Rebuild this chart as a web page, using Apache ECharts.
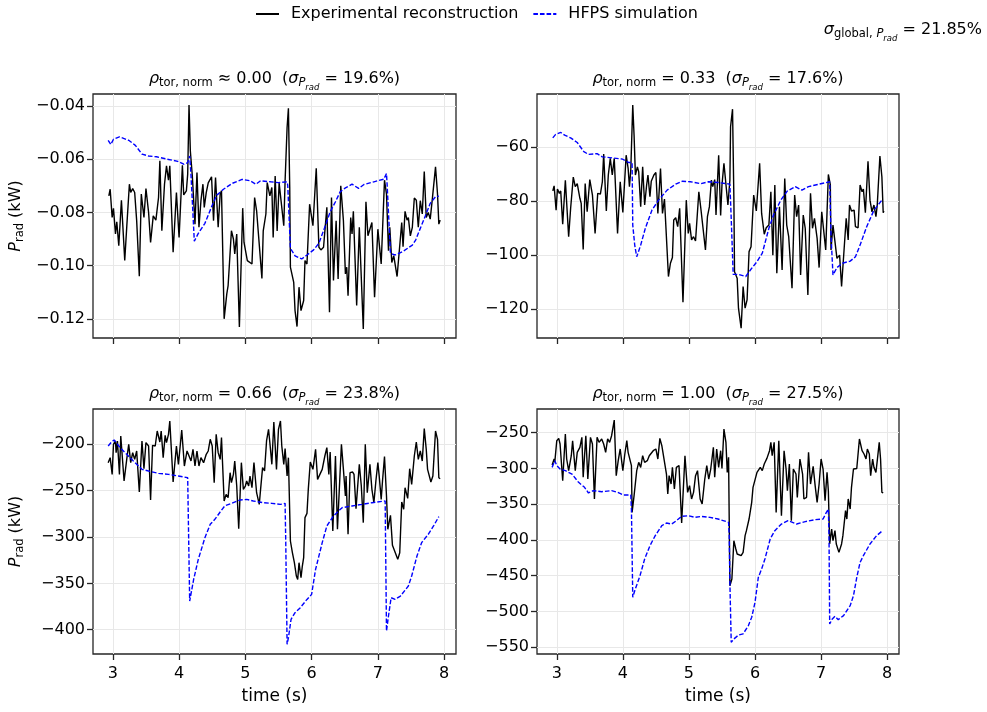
<!DOCTYPE html>
<html>
<head>
<meta charset="utf-8">
<script src="https://cdn.jsdelivr.net/npm/echarts@6/dist/echarts.min.js"></script>
<style>
html,body{margin:0;padding:0;background:#fff;}
#chart{width:987px;height:712px;}
</style>
</head>
<body>
<div id="chart"></div>
<script>
// ---------------- DATA ----------------
const seriesNames = ['Experimental reconstruction', 'HFPS simulation'];
const xTicks = [3, 4, 5, 6, 7, 8];
const yTicks0 = [-0.12, -0.10, -0.08, -0.06, -0.04];
const yTicks1 = [-120, -100, -80, -60];
const yTicks2 = [-400, -350, -300, -250, -200];
const yTicks3 = [-550, -500, -450, -400, -350, -300, -250];
const rhoOps = ['≈', '=', '=', '='];
const rhoVals = ['0.00', '0.33', '0.66', '1.00'];
const sigmaVals = ['19.6', '17.6', '23.8', '27.5'];
const sigmaGlobal = '21.85';

// panel 0 (rho ~ 0.00), units kW
const exp0 = [[2.94,-0.0738],[2.96,-0.0713],[2.99,-0.0819],[3.01,-0.0785],[3.04,-0.0881],[3.06,-0.0835],[3.09,-0.0925],[3.13,-0.0754],[3.18,-0.0981],[3.21,-0.0856],[3.25,-0.0694],[3.27,-0.0725],[3.30,-0.0710],[3.33,-0.0725],[3.36,-0.0831],[3.40,-0.1040],[3.43,-0.0731],[3.47,-0.0819],[3.50,-0.0710],[3.54,-0.0800],[3.57,-0.0913],[3.61,-0.0813],[3.65,-0.0829],[3.69,-0.0744],[3.71,-0.0606],[3.74,-0.0869],[3.78,-0.0694],[3.81,-0.0625],[3.84,-0.0679],[3.86,-0.0625],[3.91,-0.0950],[3.96,-0.0725],[4.00,-0.0894],[4.05,-0.0623],[4.07,-0.0734],[4.11,-0.0719],[4.13,-0.0656],[4.15,-0.0396],[4.17,-0.0569],[4.20,-0.0663],[4.22,-0.0656],[4.24,-0.0844],[4.27,-0.0650],[4.30,-0.0856],[4.33,-0.0756],[4.36,-0.0694],[4.38,-0.0781],[4.41,-0.0726],[4.44,-0.0689],[4.47,-0.0694],[4.49,-0.0666],[4.52,-0.0831],[4.55,-0.0669],[4.59,-0.0856],[4.62,-0.0731],[4.64,-0.0719],[4.68,-0.1200],[4.72,-0.1106],[4.74,-0.1075],[4.79,-0.0869],[4.82,-0.0900],[4.84,-0.0956],[4.87,-0.0881],[4.91,-0.1231],[4.96,-0.0784],[4.98,-0.0913],[5.01,-0.0906],[5.03,-0.0981],[5.06,-0.0981],[5.10,-0.0994],[5.14,-0.0744],[5.17,-0.0794],[5.25,-0.1048],[5.27,-0.0869],[5.31,-0.0806],[5.33,-0.0688],[5.37,-0.0738],[5.40,-0.0706],[5.42,-0.0894],[5.45,-0.0663],[5.48,-0.0870],[5.51,-0.0690],[5.54,-0.0694],[5.58,-0.0850],[5.60,-0.0681],[5.63,-0.0481],[5.65,-0.0409],[5.67,-0.0706],[5.68,-0.1006],[5.73,-0.1063],[5.75,-0.1169],[5.78,-0.1229],[5.81,-0.1081],[5.84,-0.1169],[5.88,-0.1131],[5.90,-0.0981],[5.93,-0.0994],[5.97,-0.0769],[6.02,-0.0850],[6.07,-0.0634],[6.11,-0.0931],[6.14,-0.0941],[6.18,-0.0931],[6.21,-0.0938],[6.23,-0.0781],[6.27,-0.1175],[6.30,-0.0744],[6.33,-0.1056],[6.37,-0.0831],[6.40,-0.1050],[6.44,-0.0700],[6.48,-0.0831],[6.51,-0.1031],[6.53,-0.1006],[6.55,-0.1113],[6.59,-0.0819],[6.61,-0.0881],[6.63,-0.0796],[6.68,-0.1150],[6.72,-0.0856],[6.78,-0.1238],[6.82,-0.0760],[6.85,-0.0888],[6.88,-0.0881],[6.91,-0.0838],[6.95,-0.1119],[7.00,-0.0863],[7.05,-0.0994],[7.10,-0.0679],[7.13,-0.0731],[7.16,-0.0944],[7.18,-0.0856],[7.21,-0.0988],[7.24,-0.0963],[7.29,-0.1041],[7.31,-0.1046],[7.36,-0.0838],[7.38,-0.0929],[7.41,-0.0796],[7.44,-0.0829],[7.46,-0.0819],[7.49,-0.0888],[7.52,-0.0856],[7.55,-0.0746],[7.58,-0.0754],[7.61,-0.0856],[7.64,-0.0756],[7.67,-0.0806],[7.70,-0.0646],[7.73,-0.0819],[7.76,-0.0800],[7.79,-0.0825],[7.82,-0.0754],[7.87,-0.0629],[7.90,-0.0731],[7.92,-0.0844],[7.94,-0.0829]];
const sim0 = [[2.93,-0.0529],[2.97,-0.0545],[3.01,-0.0525],[3.10,-0.0516],[3.24,-0.0529],[3.34,-0.0548],[3.44,-0.0581],[3.54,-0.0588],[3.66,-0.0591],[3.82,-0.0600],[3.98,-0.0608],[4.07,-0.0619],[4.13,-0.0613],[4.16,-0.0588],[4.18,-0.0660],[4.23,-0.0908],[4.29,-0.0879],[4.39,-0.0841],[4.50,-0.0773],[4.57,-0.0735],[4.67,-0.0713],[4.80,-0.0691],[4.95,-0.0676],[5.07,-0.0681],[5.16,-0.0694],[5.23,-0.0681],[5.38,-0.0685],[5.50,-0.0688],[5.63,-0.0685],[5.64,-0.0698],[5.68,-0.0935],[5.75,-0.0963],[5.85,-0.0975],[5.93,-0.0960],[6.03,-0.0941],[6.11,-0.0916],[6.21,-0.0848],[6.28,-0.0798],[6.36,-0.0760],[6.43,-0.0723],[6.51,-0.0708],[6.61,-0.0694],[6.71,-0.0710],[6.79,-0.0695],[6.94,-0.0685],[7.09,-0.0675],[7.13,-0.0654],[7.14,-0.0698],[7.19,-0.0954],[7.26,-0.0960],[7.37,-0.0948],[7.52,-0.0923],[7.57,-0.0904],[7.64,-0.0860],[7.72,-0.0811],[7.79,-0.0766],[7.87,-0.0741],[7.92,-0.0739]];

// panel 1 (rho = 0.33)
const exp1 = [[2.94,-76.3],[2.96,-74.4],[2.99,-83.4],[3.01,-75.6],[3.04,-77.2],[3.06,-76.3],[3.09,-88.6],[3.13,-72.4],[3.18,-93.2],[3.21,-82.7],[3.25,-71.2],[3.28,-74.7],[3.31,-73.6],[3.35,-79.0],[3.37,-80.9],[3.40,-97.9],[3.43,-73.6],[3.46,-84.0],[3.50,-72.1],[3.54,-77.8],[3.58,-92.0],[3.62,-77.2],[3.66,-77.5],[3.69,-72.9],[3.71,-62.7],[3.75,-83.7],[3.78,-70.4],[3.81,-64.3],[3.84,-70.4],[3.87,-64.3],[3.92,-92.0],[3.96,-72.9],[4.00,-84.2],[4.05,-63.1],[4.08,-68.0],[4.10,-74.7],[4.12,-68.6],[4.15,-44.6],[4.17,-55.7],[4.19,-70.4],[4.22,-67.4],[4.24,-69.2],[4.27,-82.1],[4.30,-67.4],[4.33,-81.5],[4.36,-74.1],[4.38,-70.4],[4.41,-78.4],[4.43,-72.7],[4.47,-70.4],[4.50,-69.5],[4.53,-84.6],[4.57,-68.0],[4.60,-84.6],[4.63,-79.3],[4.66,-79.1],[4.69,-107.9],[4.72,-103.0],[4.75,-100.9],[4.77,-87.0],[4.80,-86.2],[4.83,-89.5],[4.86,-82.7],[4.91,-117.4],[4.96,-79.7],[4.99,-92.0],[5.01,-88.3],[5.04,-94.4],[5.07,-93.2],[5.10,-94.8],[5.15,-76.6],[5.18,-82.7],[5.25,-98.1],[5.28,-85.8],[5.31,-82.1],[5.34,-72.3],[5.36,-74.7],[5.39,-72.1],[5.41,-85.2],[5.45,-63.1],[5.48,-85.4],[5.50,-74.1],[5.53,-66.1],[5.55,-65.5],[5.59,-81.5],[5.62,-72.3],[5.63,-52.6],[5.66,-46.1],[5.68,-78.4],[5.69,-106.1],[5.73,-108.5],[5.75,-119.6],[5.79,-127.0],[5.82,-111.6],[5.85,-119.6],[5.88,-116.5],[5.91,-98.7],[5.94,-96.9],[5.98,-77.8],[6.02,-83.7],[6.07,-66.1],[6.10,-84.6],[6.14,-92.3],[6.17,-89.9],[6.21,-88.9],[6.24,-76.6],[6.27,-100.0],[6.30,-74.1],[6.33,-106.7],[6.37,-82.1],[6.41,-105.5],[6.45,-71.7],[6.48,-88.9],[6.51,-93.2],[6.53,-93.0],[6.56,-112.2],[6.60,-77.8],[6.63,-85.8],[6.66,-81.5],[6.69,-107.3],[6.73,-85.2],[6.76,-90.1],[6.80,-114.7],[6.84,-77.2],[6.87,-90.1],[6.90,-86.4],[6.94,-93.8],[6.97,-104.6],[7.01,-84.0],[7.07,-98.1],[7.11,-70.2],[7.14,-74.1],[7.15,-98.1],[7.18,-88.9],[7.21,-95.0],[7.24,-101.2],[7.28,-100.0],[7.31,-111.6],[7.34,-111.0],[7.38,-86.4],[7.41,-94.4],[7.43,-81.5],[7.46,-83.7],[7.50,-83.4],[7.52,-89.5],[7.56,-89.9],[7.59,-74.1],[7.62,-76.6],[7.64,-75.6],[7.67,-84.3],[7.71,-65.3],[7.74,-79.7],[7.77,-84.0],[7.80,-81.5],[7.83,-85.8],[7.85,-81.5],[7.89,-63.4],[7.92,-71.1],[7.94,-84.3],[7.95,-83.7]];
const sim1 = [[2.94,-56.7],[2.98,-55.5],[3.06,-54.7],[3.12,-55.7],[3.21,-56.7],[3.31,-58.4],[3.41,-61.8],[3.48,-62.8],[3.61,-62.5],[3.69,-63.7],[3.84,-64.1],[3.99,-64.5],[4.09,-65.8],[4.14,-65.8],[4.15,-88.9],[4.18,-96.3],[4.21,-100.6],[4.27,-96.3],[4.34,-90.1],[4.44,-83.4],[4.54,-79.7],[4.67,-76.0],[4.80,-73.8],[4.90,-72.7],[5.02,-72.9],[5.18,-73.6],[5.30,-72.9],[5.45,-73.2],[5.62,-73.8],[5.64,-86.4],[5.67,-107.1],[5.75,-107.1],[5.86,-107.9],[5.93,-105.5],[6.03,-102.4],[6.11,-99.3],[6.21,-90.1],[6.28,-85.2],[6.39,-79.7],[6.49,-76.3],[6.61,-74.7],[6.71,-76.0],[6.81,-74.7],[6.97,-73.8],[7.13,-72.9],[7.15,-92.6],[7.18,-107.3],[7.24,-104.6],[7.32,-103.0],[7.44,-102.2],[7.52,-100.6],[7.59,-96.3],[7.69,-89.5],[7.80,-83.4],[7.92,-79.7]];

// panel 2 (rho = 0.66)
const exp2 = [[2.93,-219.8],[2.96,-214.4],[2.99,-232.4],[3.01,-200.0],[3.04,-196.4],[3.05,-209.0],[3.07,-196.4],[3.10,-232.4],[3.12,-191.0],[3.14,-189.2],[3.17,-239.6],[3.21,-216.2],[3.24,-200.0],[3.27,-219.8],[3.30,-209.0],[3.33,-216.2],[3.36,-207.2],[3.40,-251.4],[3.44,-196.4],[3.47,-226.3],[3.50,-198.2],[3.54,-201.8],[3.57,-260.1],[3.60,-201.1],[3.64,-201.8],[3.67,-185.6],[3.71,-197.5],[3.73,-185.6],[3.76,-214.4],[3.79,-190.3],[3.81,-198.2],[3.84,-189.2],[3.86,-174.8],[3.91,-240.6],[3.96,-201.8],[3.99,-221.6],[4.04,-184.5],[4.08,-223.4],[4.12,-207.2],[4.14,-210.8],[4.18,-218.0],[4.21,-205.4],[4.24,-223.4],[4.27,-207.2],[4.30,-223.4],[4.33,-214.4],[4.37,-219.8],[4.41,-210.8],[4.44,-207.2],[4.47,-194.6],[4.50,-201.8],[4.53,-241.4],[4.56,-189.2],[4.59,-209.0],[4.62,-216.2],[4.64,-192.8],[4.68,-261.2],[4.71,-254.0],[4.74,-257.6],[4.77,-230.6],[4.79,-241.4],[4.82,-232.4],[4.84,-218.0],[4.87,-245.0],[4.90,-291.0],[4.94,-219.8],[4.97,-248.6],[5.00,-245.0],[5.02,-239.6],[5.05,-245.0],[5.07,-234.2],[5.10,-246.8],[5.13,-219.8],[5.17,-252.2],[5.21,-264.8],[5.23,-248.6],[5.26,-225.2],[5.29,-228.8],[5.32,-196.4],[5.35,-183.8],[5.37,-198.2],[5.40,-221.6],[5.43,-176.0],[5.47,-227.0],[5.50,-183.8],[5.53,-174.8],[5.55,-201.8],[5.58,-221.6],[5.60,-204.7],[5.63,-234.2],[5.65,-214.4],[5.68,-304.3],[5.71,-316.9],[5.74,-327.7],[5.77,-342.1],[5.79,-345.7],[5.81,-327.7],[5.84,-343.9],[5.86,-331.3],[5.88,-322.3],[5.90,-279.1],[5.93,-274.5],[5.95,-248.6],[5.98,-219.1],[6.02,-227.0],[6.06,-205.4],[6.09,-237.8],[6.12,-236.0],[6.16,-227.0],[6.20,-212.6],[6.23,-203.6],[6.26,-232.4],[6.28,-208.3],[6.32,-293.5],[6.36,-212.6],[6.39,-291.7],[6.45,-200.0],[6.48,-227.0],[6.51,-255.8],[6.52,-234.2],[6.55,-297.1],[6.58,-230.6],[6.62,-229.9],[6.64,-232.4],[6.67,-269.4],[6.72,-221.6],[6.75,-245.0],[6.78,-284.5],[6.81,-200.0],[6.84,-252.2],[6.88,-221.6],[6.91,-248.6],[6.94,-263.0],[6.97,-239.6],[7.00,-219.8],[7.02,-234.2],[7.05,-259.4],[7.07,-239.6],[7.10,-213.3],[7.13,-255.8],[7.15,-291.7],[7.19,-276.6],[7.22,-309.0],[7.25,-310.4],[7.30,-324.1],[7.33,-316.9],[7.36,-262.2],[7.39,-270.1],[7.41,-246.8],[7.45,-258.3],[7.48,-226.3],[7.51,-243.2],[7.55,-212.6],[7.58,-197.5],[7.61,-216.2],[7.64,-207.2],[7.67,-218.0],[7.70,-183.1],[7.73,-205.4],[7.75,-227.0],[7.78,-225.2],[7.80,-240.6],[7.83,-234.2],[7.87,-185.6],[7.90,-194.6],[7.92,-236.0],[7.94,-237.1]];
const sim2 = [[2.93,-201.8],[2.98,-197.5],[3.02,-195.3],[3.11,-203.6],[3.21,-210.8],[3.31,-218.0],[3.44,-227.0],[3.54,-228.8],[3.69,-231.3],[3.84,-232.4],[3.99,-234.2],[4.13,-236.0],[4.14,-280.9],[4.16,-369.1],[4.22,-345.7],[4.29,-324.1],[4.39,-300.7],[4.47,-286.3],[4.54,-280.9],[4.62,-273.0],[4.69,-266.4],[4.79,-263.7],[4.92,-260.1],[5.02,-259.4],[5.12,-261.1],[5.27,-263.0],[5.40,-263.7],[5.53,-264.8],[5.60,-263.7],[5.61,-306.1],[5.63,-415.8],[5.65,-408.6],[5.69,-388.8],[5.75,-381.6],[5.83,-376.2],[5.93,-367.3],[6.00,-361.9],[6.06,-334.9],[6.16,-306.1],[6.23,-288.1],[6.33,-277.3],[6.46,-268.3],[6.61,-266.5],[6.76,-264.8],[6.91,-263.0],[7.11,-261.1],[7.13,-401.4],[7.16,-385.2],[7.20,-365.5],[7.26,-367.3],[7.34,-363.7],[7.46,-352.9],[7.51,-342.1],[7.59,-320.5],[7.66,-306.1],[7.76,-297.1],[7.84,-288.1],[7.92,-278.0]];

// panel 3 (rho = 1.00)
const exp3 = [[2.93,-295.2],[2.96,-286.8],[2.97,-291.5],[3.00,-261.2],[3.03,-257.9],[3.05,-265.8],[3.09,-317.1],[3.13,-251.9],[3.15,-286.8],[3.18,-303.1],[3.22,-282.2],[3.24,-261.2],[3.28,-303.1],[3.31,-277.5],[3.35,-270.5],[3.38,-256.5],[3.40,-312.4],[3.44,-254.2],[3.47,-314.8],[3.51,-256.5],[3.54,-265.8],[3.57,-342.7],[3.61,-256.5],[3.64,-263.5],[3.68,-258.8],[3.71,-265.8],[3.74,-277.5],[3.77,-258.8],[3.80,-263.5],[3.83,-254.2],[3.87,-232.3],[3.90,-310.1],[3.93,-289.1],[3.96,-272.8],[4.00,-303.1],[4.03,-279.8],[4.06,-261.2],[4.08,-277.5],[4.11,-275.2],[4.13,-296.1],[4.14,-361.4],[4.17,-338.1],[4.21,-303.1],[4.24,-291.5],[4.27,-298.5],[4.30,-282.2],[4.33,-291.5],[4.37,-289.1],[4.40,-282.2],[4.43,-279.8],[4.46,-275.2],[4.50,-272.8],[4.53,-286.8],[4.56,-257.9],[4.59,-268.2],[4.62,-268.0],[4.66,-307.8],[4.68,-335.7],[4.70,-310.1],[4.73,-321.8],[4.75,-298.5],[4.78,-328.8],[4.81,-298.5],[4.85,-296.1],[4.89,-376.3],[4.94,-282.2],[4.98,-333.4],[5.01,-324.1],[5.04,-342.7],[5.07,-333.4],[5.10,-310.1],[5.13,-303.1],[5.17,-342.7],[5.20,-349.7],[5.24,-314.8],[5.27,-296.1],[5.30,-314.8],[5.33,-300.8],[5.37,-270.5],[5.39,-312.4],[5.42,-272.8],[5.45,-298.5],[5.48,-275.2],[5.50,-300.0],[5.53,-244.9],[5.56,-263.5],[5.58,-305.5],[5.60,-284.5],[5.62,-463.9],[5.65,-454.6],[5.68,-401.0],[5.71,-412.6],[5.73,-419.6],[5.76,-418.2],[5.79,-421.9],[5.82,-417.3],[5.85,-394.0],[5.87,-387.0],[5.91,-370.7],[5.95,-347.4],[5.97,-326.4],[6.03,-305.5],[6.08,-298.5],[6.11,-303.1],[6.14,-293.8],[6.18,-285.9],[6.22,-275.2],[6.24,-263.5],[6.26,-282.2],[6.29,-263.5],[6.32,-361.4],[6.36,-261.2],[6.40,-366.1],[6.44,-275.2],[6.47,-300.8],[6.49,-331.1],[6.52,-293.8],[6.55,-373.0],[6.58,-300.8],[6.62,-307.8],[6.64,-340.4],[6.68,-286.8],[6.72,-307.8],[6.74,-342.7],[6.78,-340.4],[6.81,-277.5],[6.84,-321.8],[6.88,-297.1],[6.91,-324.1],[6.94,-347.4],[6.97,-321.8],[7.00,-286.8],[7.03,-300.8],[7.06,-345.0],[7.09,-305.5],[7.11,-331.1],[7.13,-405.6],[7.16,-384.7],[7.18,-401.0],[7.21,-387.0],[7.23,-405.6],[7.27,-417.3],[7.31,-405.6],[7.33,-394.0],[7.37,-359.0],[7.39,-370.7],[7.41,-342.7],[7.44,-356.7],[7.46,-326.4],[7.49,-300.8],[7.51,-302.2],[7.54,-300.0],[7.58,-258.8],[7.60,-261.2],[7.62,-275.2],[7.65,-279.8],[7.68,-286.8],[7.70,-272.8],[7.73,-279.8],[7.75,-310.1],[7.78,-286.8],[7.80,-298.5],[7.83,-305.5],[7.85,-289.1],[7.88,-263.5],[7.90,-286.8],[7.92,-333.4],[7.94,-334.3]];
const sim3 = [[2.93,-298.5],[2.97,-289.1],[3.00,-296.1],[3.05,-300.8],[3.13,-303.1],[3.23,-307.8],[3.33,-319.4],[3.42,-326.4],[3.48,-334.3],[3.55,-331.1],[3.68,-332.5],[3.83,-331.1],[3.92,-333.4],[4.01,-337.1],[4.12,-337.1],[4.13,-356.7],[4.15,-480.2],[4.18,-470.9],[4.26,-449.9],[4.33,-426.6],[4.41,-408.0],[4.49,-394.0],[4.59,-380.0],[4.66,-376.3],[4.74,-377.7],[4.81,-373.0],[4.89,-367.0],[4.99,-366.1],[5.09,-368.4],[5.19,-367.0],[5.32,-368.4],[5.44,-370.7],[5.60,-375.3],[5.61,-394.0],[5.62,-459.2],[5.64,-543.1],[5.68,-538.4],[5.75,-532.9],[5.82,-531.3],[5.90,-519.7],[5.95,-508.0],[6.00,-487.2],[6.05,-452.3],[6.10,-440.6],[6.15,-426.6],[6.23,-398.6],[6.30,-387.0],[6.40,-377.7],[6.50,-373.0],[6.63,-377.7],[6.76,-374.4],[6.91,-371.6],[7.03,-370.7],[7.08,-361.4],[7.11,-356.7],[7.12,-394.0],[7.13,-517.3],[7.17,-510.4],[7.21,-506.7],[7.26,-511.4],[7.34,-505.7],[7.44,-491.8],[7.49,-477.8],[7.54,-452.3],[7.59,-431.3],[7.64,-422.0],[7.74,-405.6],[7.84,-394.0],[7.93,-387.0]];

const expData = [exp0, exp1, exp2, exp3];
const simData = [sim0, sim1, sim2, sim3];
const yTickSets = [yTicks0, yTicks1, yTicks2, yTicks3];

// ---------------- LAYOUT / STYLE ----------------
const FONT = "'DejaVu Sans', sans-serif";
const INK = '#262626';
const grids = [
  {left: 93, top: 94, width: 363, height: 244},
  {left: 537, top: 94, width: 362, height: 244},
  {left: 93, top: 409, width: 363, height: 245},
  {left: 537, top: 409, width: 362, height: 245}
];
const xRange = [2.701, 8.179];
const yRanges = [[-0.1272, -0.0355], [-130.6, -40.5], [-426.2, -161.9], [-559.4, -216.9]];

const minus = v => (v < 0 ? '\u2212' : '') + Math.abs(v);
const yFmt = [v => (v < 0 ? '\u2212' : '') + Math.abs(v).toFixed(2), minus, minus, minus];

const rich = {
  n: {fontSize: 16, fontFamily: FONT, fill: '#000', color: '#000'},
  i: {fontSize: 16, fontFamily: FONT, fontStyle: 'italic', fill: '#000', color: '#000'},
  s: {fontSize: 11.5, fontFamily: FONT, fill: '#000', color: '#000', padding: [9, 0, 0, 0]},
  si: {fontSize: 11.5, fontFamily: FONT, fontStyle: 'italic', fill: '#000', color: '#000', padding: [9, 0, 0, 0]},
  ss: {fontSize: 8.5, fontFamily: FONT, fontStyle: 'italic', fill: '#000', color: '#000', padding: [17, 0, 0, 0]}
};

const xAxes = [], yAxes = [], series = [], graphics = [];
grids.forEach((g, k) => {
  const bottomRow = k >= 2;
  xAxes.push({
    type: 'value', gridIndex: k, min: xRange[0], max: xRange[1],
    axisLine: {show: false, onZero: false},
    axisTick: {show: true, length: 6, lineStyle: {color: INK, width: 1.3}, customValues: xTicks},
    axisLabel: {show: bottomRow, customValues: xTicks, fontSize: 16, fontFamily: FONT, color: '#000', margin: 12},
    splitLine: {show: true, lineStyle: {color: '#e8e8e8', width: 1}},
    name: bottomRow ? 'time (s)' : '', nameLocation: 'middle', nameGap: 34,
    nameTextStyle: {fontSize: 17, fontFamily: FONT, color: '#000'}
  });
  yAxes.push({
    type: 'value', gridIndex: k, min: yRanges[k][0], max: yRanges[k][1],
    axisLine: {show: false, onZero: false},
    axisTick: {show: true, length: 6, lineStyle: {color: INK, width: 1.3}, customValues: yTickSets[k]},
    axisLabel: {show: true, customValues: yTickSets[k], formatter: yFmt[k], fontSize: 16, fontFamily: FONT, color: '#000', margin: 8},
    splitLine: {show: true, lineStyle: {color: '#e8e8e8', width: 1}}
  });
  series.push({
    name: seriesNames[0], type: 'line', xAxisIndex: k, yAxisIndex: k, data: expData[k],
    symbol: 'none', showSymbol: false, z: 3,
    lineStyle: {color: '#000', width: 1.4}, itemStyle: {color: '#000'}
  });
  series.push({
    name: seriesNames[1], type: 'line', xAxisIndex: k, yAxisIndex: k, data: simData[k],
    symbol: 'none', showSymbol: false, z: 4,
    lineStyle: {color: '#0000ff', width: 1.4, type: [4.6, 2]}, itemStyle: {color: '#0000ff'}
  });
  const cx = g.left + g.width / 2;
  graphics.push({
    type: 'text', x: cx, y: g.top - 15,
    style: {
      text: '{i|ρ}{s|tor, norm}{n| ' + rhoOps[k] + ' ' + rhoVals[k] + '  (}{i|σ}{si|P}{ss|rad}{n| = ' + sigmaVals[k] + '%)}',
      rich: rich, align: 'center', verticalAlign: 'middle', fontSize: 16, fontFamily: FONT, fill: '#000'
    }
  });
  if (k === 0 || k === 2) {
    graphics.push({
      type: 'text', x: 16, y: g.top + g.height / 2, rotation: Math.PI / 2,
      style: {
        text: '{i|P}{s|rad}{n| (kW)}', rich: rich, align: 'center', verticalAlign: 'middle',
        fontSize: 16, fontFamily: FONT, fill: '#000'
      }
    });
  }
});

graphics.push({
  type: 'text', x: 982, y: 30,
  style: {
    text: '{i|σ}{s|global, }{si|P}{ss|rad}{n| = ' + sigmaGlobal + '%}',
    rich: rich, align: 'right', verticalAlign: 'middle', fontSize: 16, fontFamily: FONT, fill: '#000'
  }
});

const chart = echarts.init(document.getElementById('chart'), null, {renderer: 'canvas'});
chart.setOption({
  animation: false,
  backgroundColor: '#fff',
  grid: grids.map(g => Object.assign({show: true, borderColor: INK, borderWidth: 1.3, backgroundColor: 'transparent', containLabel: false}, g)),
  xAxis: xAxes,
  yAxis: yAxes,
  legend: {
    data: seriesNames, top: 6, left: 255, padding: 0, itemWidth: 23, itemHeight: 12, itemGap: 14,
    itemStyle: {opacity: 0},
    textStyle: {fontSize: 16, fontFamily: FONT, color: '#000', padding: [0, 0, 0, 7]}
  },
  series: series,
  graphic: graphics
});
</script>
</body>
</html>
